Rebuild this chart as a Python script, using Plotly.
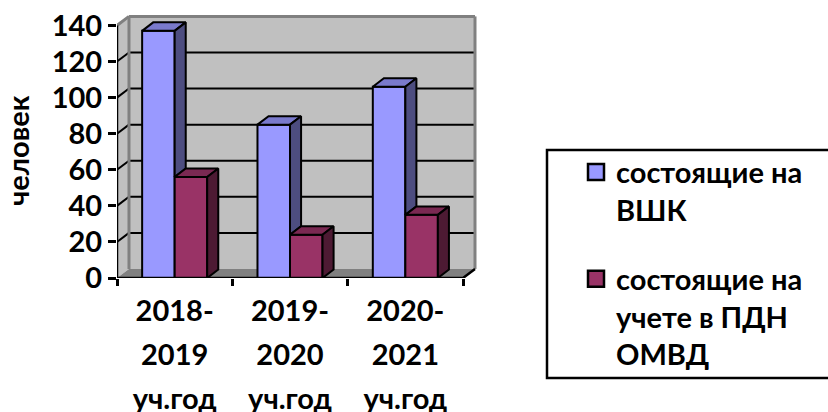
import plotly.graph_objects as go

categories = ["2018-2019 уч.год", "2019-2020 уч.год", "2020-2021 уч.год"]
label_lines = [["2018-", "2019", "уч.год"], ["2019-", "2020", "уч.год"], ["2020-", "2021", "уч.год"]]
series_a_name = ["состоящие на", "ВШК"]
series_b_name = ["состоящие на", "учете в ПДН", "ОМВД"]
series_a = [137, 85, 106]
series_b = [56, 24, 35]
y_ticks = [0, 20, 40, 60, 80, 100, 120, 140]

FONT = "Lato, 'Open Sans', sans-serif"
W, H = 828, 412
L, R, T, B = 117, 350, 11, 134
XMAX, YMAX = 3.13, 148
DX, DY = 0.104, 5.0      # depth of the walls
BDX, BDY = 0.096, 4.7    # depth of the bars
BW = 0.282
centers = [i + 0.5 for i in range(len(categories))]

def px(xp): return (xp - L) / (W - L - R)
def py(yp): return 1 - (yp - T) / (H - T - B)
def path(pts): return "M" + " L".join(f"{x},{y}" for x, y in pts) + " Z"

shapes = [
    dict(type="path", layer="below", xref="x", yref="y", fillcolor="#C0C0C0", line=dict(width=0),
         path=path([(0, 0), (DX, DY), (DX, 140 + DY), (0, 140)])),
    dict(type="path", layer="below", xref="x", yref="y", fillcolor="#C0C0C0", line=dict(width=0),
         path=path([(DX, DY), (3 + DX, DY), (3 + DX, 140 + DY), (DX, 140 + DY)])),
    dict(type="path", layer="below", xref="x", yref="y", fillcolor="#808080", line=dict(width=0),
         path=path([(0, 0), (DX, DY), (3 + DX, DY), (3, 0)])),
]
for v in y_ticks[1:-1]:
    shapes.append(dict(type="line", layer="below", xref="x", yref="y", x0=DX, x1=3 + DX, y0=v + DY, y1=v + DY,
                       line=dict(color="black", width=2)))
    shapes.append(dict(type="line", layer="below", xref="x", yref="y", x0=0, x1=DX, y0=v, y1=v + DY,
                       line=dict(color="black", width=2)))
for seg in [((DX, DY), (DX, 140 + DY)), ((DX, 140 + DY), (3 + DX, 140 + DY)), ((3 + DX, 140 + DY), (3 + DX, DY)), ((0, 140), (DX, 140 + DY))]:
    shapes.append(dict(type="line", layer="below", xref="x", yref="y", x0=seg[0][0], y0=seg[0][1], x1=seg[1][0], y1=seg[1][1],
                       line=dict(color="#808080", width=3)))
shapes.append(dict(type="rect", xref="paper", yref="paper", x0=px(547), x1=px(840), y0=py(378), y1=py(150),
                   line=dict(color="black", width=2.5), fillcolor="white", layer="below"))

fig = go.Figure()
label_html = ["<br>".join(f'<span style="font-size:29px">{s}</span>' for s in lines) for lines in label_lines]

fig.add_trace(go.Bar(x=centers, y=series_a, width=BW, offset=-BW, name=" ".join(series_a_name), showlegend=False,
                     marker=dict(color="#9999FF", line=dict(color="black", width=2))))
fig.add_trace(go.Bar(x=centers, y=series_b, width=BW, offset=0, name=" ".join(series_b_name), showlegend=False,
                     marker=dict(color="#993366", line=dict(color="black", width=2))))

def face(xs, ys, color):
    fig.add_trace(go.Scatter(x=xs, y=ys, mode="lines", fill="toself", fillcolor=color, showlegend=False,
                             hoverinfo="skip", line=dict(color="black", width=2)))

for c, a, b in zip(centers, series_a, series_b):
    x0, x1 = c - BW, c
    face([x0, x0 + BDX, x1 + BDX, x1, x0], [a, a + BDY, a + BDY, a, a], "#7A7ACC")
    low = min(a, b)
    face([x1, x1 + BDX, x1 + BDX, x1, x1], [a, a + BDY, low + BDY, low, a], "#4D4D80")
for c, b in zip(centers, series_b):
    x0, x1 = c, c + BW
    face([x0, x0 + BDX, x1 + BDX, x1, x0], [b, b + BDY, b + BDY, b, b], "#7A2952")
    face([x1, x1 + BDX, x1 + BDX, x1, x1], [b, b + BDY, BDY, 0, b], "#4D1A33")

# axis lines
fig.add_trace(go.Scatter(x=[0, 0], y=[0, 140], mode="lines", cliponaxis=False, showlegend=False, hoverinfo="skip",
                         line=dict(color="black", width=2.5)))
fig.add_trace(go.Scatter(x=[0, 3, 3 + DX], y=[0, 0, DY], mode="lines", cliponaxis=False, showlegend=False, hoverinfo="skip",
                         line=dict(color="black", width=2.5)))

# legend entries
NB = "\u00a0"
fig.add_trace(go.Scatter(x=[None], y=[None], mode="markers", legend="legend", name="<br>".join([NB] + series_a_name),
                         marker=dict(symbol="square", size=16, color="#9999FF", line=dict(color="black", width=2.5))))
fig.add_trace(go.Scatter(x=[None], y=[None], mode="markers", legend="legend2", name="<br>".join([NB, NB] + series_b_name),
                         marker=dict(symbol="square", size=16, color="#993366", line=dict(color="black", width=2.5))))

lfont = dict(family=FONT, size=29, color="black", weight="bold")
common = dict(xanchor="left", yanchor="top", bgcolor="rgba(0,0,0,0)", borderwidth=0, font=lfont, itemsizing="trace",
              itemclick=False, itemdoubleclick=False)

fig.update_layout(
    width=W, height=H, margin=dict(l=L, r=R, t=T, b=B, pad=0, autoexpand=False),
    paper_bgcolor="white", plot_bgcolor="white", barmode="overlay", shapes=shapes,
    font=dict(family=FONT, color="black"),
    legend=dict(x=px(576), y=py(109), **common),
    legend2=dict(x=px(576), y=py(178), **common),
    annotations=[dict(text="человек", xref="paper", yref="paper", x=px(17), y=py(151), xanchor="center", yanchor="middle",
                      textangle=-90, showarrow=False,
                      font=dict(family=FONT, size=29, color="black", weight="bold"))],
    xaxis=dict(range=[0, XMAX], showgrid=False, zeroline=False, showline=False,
               tickmode="array", tickvals=centers, ticktext=label_html, ticks="", ticklabelstandoff=8,
               tickangle=0, tickfont=dict(family=FONT, size=34, color="black", weight="bold"),
               minor=dict(tickmode="array", tickvals=[0, 1, 2, 3], ticks="outside", ticklen=7, tickwidth=2.5, tickcolor="black", showgrid=False)),
    yaxis=dict(range=[0, YMAX], showgrid=False, zeroline=False, showline=False,
               tickmode="array", tickvals=y_ticks, ticks="outside", ticklen=8, tickwidth=2.5, tickcolor="black",
               tickfont=dict(family=FONT, size=29, color="black", weight="bold")),
)
fig.write_html("out.html", config=dict(displayModeBar=False),
               post_script="document.body.style.margin='0';document.documentElement.style.margin='0';")
